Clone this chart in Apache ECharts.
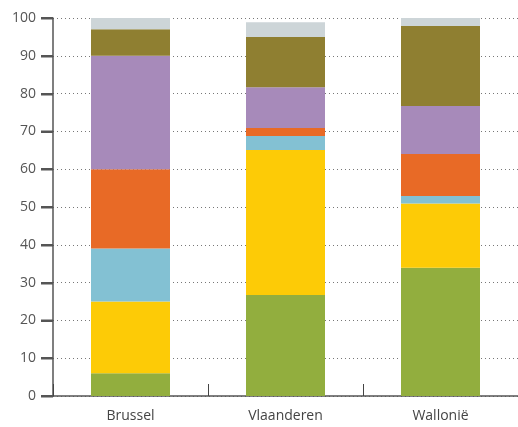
<!DOCTYPE html>
<html>
<head>
<meta charset="utf-8">
<script src="https://cdn.jsdelivr.net/npm/echarts@6/dist/echarts.min.js"></script>
<style>
  html, body { margin: 0; padding: 0; background: #fff; }
  #chart { width: 518px; height: 427px; }
</style>
</head>
<body>
<div id="chart"></div>
<script>
// categorieen
var regions = ["Brussel", "Vlaanderen", "Wallonië"];

// gestapelde waarden (procent), van onder naar boven
var greenVals = [6, 26.7, 33.9];
var yellowVals = [19, 38.4, 17];
var blueVals = [14, 3.7, 2];
var orangeVals = [21, 2.1, 11.1];
var purpleVals = [30, 10.8, 12.7];
var oliveVals = [7, 13.3, 21.2];
var greyVals = [3, 3.9, 2.1];

// waarden van de y-as
var yTicks = [0, 10, 20, 30, 40, 50, 60, 70, 80, 90, 100];

var layers = [
  { name: "groen", data: greenVals, color: "#92AE3E" },
  { name: "geel", data: yellowVals, color: "#FDCB06" },
  { name: "blauw", data: blueVals, color: "#83C1D3" },
  { name: "oranje", data: orangeVals, color: "#E86A26" },
  { name: "paars", data: purpleVals, color: "#A78ABA" },
  { name: "olijf", data: oliveVals, color: "#8F7F31" },
  { name: "grijs", data: greyVals, color: "#CDD5D8" }
];

var gridLeft = 53;

var chart = echarts.init(document.getElementById("chart"));

chart.setOption({
  animation: false,
  textStyle: { fontFamily: "Open Sans" },
  grid: {
    left: gridLeft,
    top: 18,
    bottom: 31,
    right: 0
  },
  xAxis: {
    type: "category",
    data: regions,
    axisLine: { lineStyle: { color: "#555", width: 1.5 } },
    axisTick: { show: true, inside: true, length: 12, lineStyle: { color: "#444", width: 1 } },
    axisLabel: { color: "#444", fontSize: 14, margin: 13 }
  },
  yAxis: {
    type: "value",
    min: yTicks[0],
    max: yTicks[yTicks.length - 1],
    interval: 10,
    axisLine: { show: true, lineStyle: { color: "#555", width: 1.5 } },
    axisTick: { show: true, length: 12, lineStyle: { color: "#555", width: 2 } },
    axisLabel: { color: "#555", fontSize: 14, margin: 17 },
    splitLine: {
      show: true,
      lineStyle: { color: "#777", type: [1, 3], width: 1 }
    }
  },
  series: layers.map(function (l) {
    return {
      name: l.name,
      type: "bar",
      stack: "total",
      barWidth: 79,
      data: l.data,
      itemStyle: { color: l.color }
    };
  })
});

// streepjes links van de y-as, via de schaal van de as zelf
chart.setOption({
  graphic: yTicks.map(function (v) {
    var y = Math.round(chart.convertToPixel({ yAxisIndex: 0 }, v)) + 0.5;
    return {
      type: "line",
      silent: true,
      shape: { x1: gridLeft - 12, y1: y, x2: gridLeft, y2: y },
      style: { stroke: "#555", lineWidth: 2 }
    };
  })
});
</script>
</body>
</html>
